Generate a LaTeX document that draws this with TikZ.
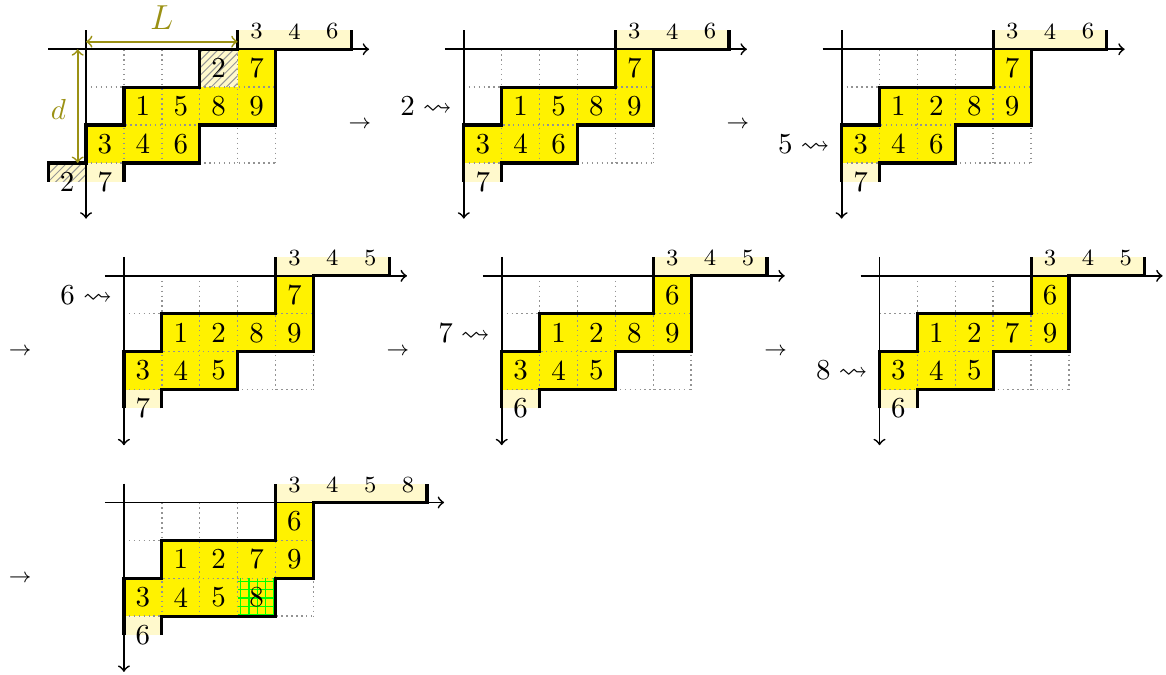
\documentclass[tikz,border=0pt]{standalone}
\usepackage{amssymb}
\definecolor{myyellow}{RGB}{255,242,0}
\definecolor{lightyel}{RGB}{255,249,204}
\definecolor{myolive}{RGB}{155,145,20}
\definecolor{hatchgray}{RGB}{150,150,150}
\newcounter{nd}
\tikzset{
  num/.style={inner sep=0pt, font=\normalsize},
  toplab/.style={inner sep=0pt, font=\footnotesize},
  outl/.style={line width=1.1pt, line join=miter},
  axisl/.style={line width=0.6pt, ->},
  gridl/.style={gray!85, line width=0.5pt, dash pattern=on 0.5pt off 1.2pt},
  dimarrow/.style={myolive, line width=0.6pt, <->},
  hatchl/.style={hatchgray, line width=0.35pt},
  greenl/.style={green, line width=0.5pt},
  steplab/.style={inner sep=0pt, anchor=east, font=\normalsize},
  arrlab/.style={inner sep=0pt, font=\scriptsize},
}
% diagonal hatch inside rectangle (#1,#2)-(#3,#4)
\newcommand\hatchrect[4]{%
  \begin{scope}
    \clip (#1,#2) rectangle (#3,#4);
    \foreach \k in {-1.1,-0.9,...,1.1} {\draw[hatchl] (#1+\k,#2-1) -- ++(2,2);}
  \end{scope}}
\newcommand\ycell[3]{\stepcounter{nd}\fill[myyellow] (#1,-#2) rectangle ++(1,-1);
  \node[num] (n\arabic{nd}) at (#1+.5,-#2-.5) {#3};}
\newcommand\hcell[3]{\stepcounter{nd}\fill[lightyel] (#1,-#2) rectangle ++(1,-1);
  \hatchrect{#1}{-#2}{#1+1}{-#2-1}
  \node[num] (n\arabic{nd}) at (#1+.5,-#2-.5) {#3};}
\newcommand\gcell[3]{\stepcounter{nd}\fill[myyellow] (#1,-#2) rectangle ++(1,-1);
  \foreach \t in {0.08,0.3,0.52,0.74,0.96} {
    \draw[greenl] (#1+\t,-#2) -- ++(0,-1);
    \draw[greenl] (#1,-#2-\t) -- ++(1,0);}
  \node[num] (n\arabic{nd}) at (#1+.5,-#2-.5) {#3};}
\newcommand\toplabel[2]{\stepcounter{nd}\node[toplab] (n\arabic{nd}) at (#1+.5,.47) {#2};}
\newcommand\botlabel[2]{\stepcounter{nd}\node[num] (n\arabic{nd}) at (#1+.5,-3.5) {#2};}
\newcommand\dgrid{%
  \foreach \gx in {1,2,3,4,5} {\draw[gridl] (\gx,0) -- (\gx,-3);}
  \foreach \gy in {1,2,3} {\draw[gridl] (0,-\gy) -- (5,-\gy);}}
\newcommand\bandsA{\fill[lightyel] (4,0) rectangle (7,.5); \fill[lightyel] (0,-3) rectangle (1,-3.5);}
\newcommand\frameA{%
  \dgrid
  \draw[axisl] (-0.5,0) -- (7.47,0);
  \draw[axisl] (0,.5) -- (0,-4.47);
  \draw[outl] (0,-3.5) -- (0,-2) -- (1,-2) -- (1,-1) -- (4,-1) -- (4,.5);
  \draw[outl] (1,-3.5) -- (1,-3) -- (3,-3) -- (3,-2) -- (5,-2) -- (5,0) -- (7,0) -- (7,.5);}
\begin{document}
\begin{tikzpicture}[x=0.46cm,y=0.46cm]
\useasboundingbox (0,0) rectangle (30.77,-17.81);

% ---------- panel 1
\begin{scope}[shift={(2.27,-1.30)}]
  \fill[lightyel] (4,0) rectangle (7,.5);
  \fill[lightyel] (-1,-3) rectangle (1,-3.5);
  \hatchrect{-1}{-3}{0}{-3.5}
  \hcell{3}{0}{2}\ycell{4}{0}{7}
  \ycell{1}{1}{1}\ycell{2}{1}{5}\ycell{3}{1}{8}\ycell{4}{1}{9}
  \ycell{0}{2}{3}\ycell{1}{2}{4}\ycell{2}{2}{6}
  \dgrid
  \draw[axisl] (-1,0) -- (7.47,0);
  \draw[axisl] (0,.5) -- (0,-4.47);
  \draw[outl] (-1,-3.5) -- (-1,-3) -- (0,-3) -- (0,-2) -- (1,-2) -- (1,-1) -- (3,-1) -- (3,0) -- (4,0) -- (4,.5);
  \draw[outl] (1,-3.5) -- (1,-3) -- (3,-3) -- (3,-2) -- (5,-2) -- (5,0) -- (7,0) -- (7,.5);
  \toplabel{4}{3}\toplabel{5}{4}\toplabel{6}{6}
  \botlabel{-1}{2}\botlabel{0}{7}
  \coordinate (La) at (0,0.2);
  \coordinate (Lb) at (4,0.2);
  \draw[dimarrow] (La) -- (Lb);
  \node[myolive, inner sep=0pt, font=\large] (Llab) at (2,0.83) {$L$};
  \coordinate (da) at (-0.22,0);
  \coordinate (db) at (-0.22,-3);
  \draw[dimarrow] (da) -- (db);
  \node[myolive, inner sep=0pt] (dlab) at (-0.73,-1.6) {$d$};
\end{scope}

% ---------- panel 2
\begin{scope}[shift={(12.24,-1.30)}]
  \bandsA
  \ycell{4}{0}{7}
  \ycell{1}{1}{1}\ycell{2}{1}{5}\ycell{3}{1}{8}\ycell{4}{1}{9}
  \ycell{0}{2}{3}\ycell{1}{2}{4}\ycell{2}{2}{6}
  \frameA
  \toplabel{4}{3}\toplabel{5}{4}\toplabel{6}{6}
  \botlabel{0}{7}
  \node[steplab] (s2) at (-0.3,-1.5) {$2 \rightsquigarrow$};
  \node[arrlab] (a2) at (-2.74,-2) {$\rightarrow$};
\end{scope}

% ---------- panel 3
\begin{scope}[shift={(22.21,-1.30)}]
  \bandsA
  \ycell{4}{0}{7}
  \ycell{1}{1}{1}\ycell{2}{1}{2}\ycell{3}{1}{8}\ycell{4}{1}{9}
  \ycell{0}{2}{3}\ycell{1}{2}{4}\ycell{2}{2}{6}
  \frameA
  \toplabel{4}{3}\toplabel{5}{4}\toplabel{6}{6}
  \botlabel{0}{7}
  \node[steplab] (s3) at (-0.3,-2.5) {$5 \rightsquigarrow$};
  \node[arrlab] (a3) at (-2.74,-2) {$\rightarrow$};
\end{scope}

% ---------- panel 4
\begin{scope}[shift={(3.27,-7.28)}]
  \bandsA
  \ycell{4}{0}{7}
  \ycell{1}{1}{1}\ycell{2}{1}{2}\ycell{3}{1}{8}\ycell{4}{1}{9}
  \ycell{0}{2}{3}\ycell{1}{2}{4}\ycell{2}{2}{5}
  \frameA
  \toplabel{4}{3}\toplabel{5}{4}\toplabel{6}{5}
  \botlabel{0}{7}
  \node[steplab] (s4) at (-0.3,-0.5) {$6 \rightsquigarrow$};
  \node[arrlab] (a4) at (-2.74,-2) {$\rightarrow$};
\end{scope}

% ---------- panel 5
\begin{scope}[shift={(13.24,-7.28)}]
  \bandsA
  \ycell{4}{0}{6}
  \ycell{1}{1}{1}\ycell{2}{1}{2}\ycell{3}{1}{8}\ycell{4}{1}{9}
  \ycell{0}{2}{3}\ycell{1}{2}{4}\ycell{2}{2}{5}
  \frameA
  \toplabel{4}{3}\toplabel{5}{4}\toplabel{6}{5}
  \botlabel{0}{6}
  \node[steplab] (s5) at (-0.3,-1.5) {$7 \rightsquigarrow$};
  \node[arrlab] (a5) at (-2.74,-2) {$\rightarrow$};
\end{scope}

% ---------- panel 6
\begin{scope}[shift={(23.21,-7.28)}]
  \bandsA
  \ycell{4}{0}{6}
  \ycell{1}{1}{1}\ycell{2}{1}{2}\ycell{3}{1}{7}\ycell{4}{1}{9}
  \ycell{0}{2}{3}\ycell{1}{2}{4}\ycell{2}{2}{5}
  \frameA
  \toplabel{4}{3}\toplabel{5}{4}\toplabel{6}{5}
  \botlabel{0}{6}
  \node[steplab] (s6) at (-0.3,-2.5) {$8 \rightsquigarrow$};
  \node[arrlab] (a6) at (-2.74,-2) {$\rightarrow$};
\end{scope}

% ---------- panel 7
\begin{scope}[shift={(3.27,-13.26)}]
  \fill[lightyel] (4,0) rectangle (8,.5);
  \fill[lightyel] (0,-3) rectangle (1,-3.5);
  \ycell{4}{0}{6}
  \ycell{1}{1}{1}\ycell{2}{1}{2}\ycell{3}{1}{7}\ycell{4}{1}{9}
  \ycell{0}{2}{3}\ycell{1}{2}{4}\ycell{2}{2}{5}\gcell{3}{2}{8}
  \dgrid
  \draw[axisl] (-0.5,0) -- (8.45,0);
  \draw[axisl] (0,.5) -- (0,-4.47);
  \draw[outl] (0,-3.5) -- (0,-2) -- (1,-2) -- (1,-1) -- (4,-1) -- (4,.5);
  \draw[outl] (1,-3.5) -- (1,-3) -- (4,-3) -- (4,-2) -- (5,-2) -- (5,0) -- (8,0) -- (8,.5);
  \toplabel{4}{3}\toplabel{5}{4}\toplabel{6}{5}\toplabel{7}{8}
  \botlabel{0}{6}
  \node[arrlab] (a7) at (-2.74,-2) {$\rightarrow$};
\end{scope}
\end{tikzpicture}
\end{document}
